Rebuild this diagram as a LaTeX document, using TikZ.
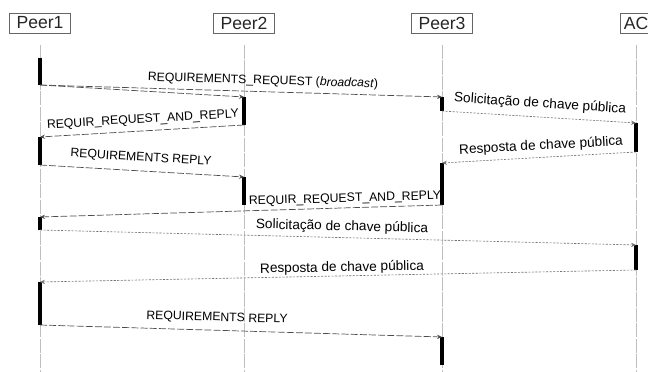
\documentclass[tikz,border=0pt]{standalone}
\usepackage{fontspec}
\setmainfont{Liberation Sans}
\usetikzlibrary{arrows.meta}
\begin{document}
\begin{tikzpicture}[x=0.025cm, y=-0.025cm, >={Stealth[length=3.5pt,width=3pt]},
    peer/.style={draw, gray!80!black, text=black!85, line width=0.4pt, minimum width=1.52cm,
      minimum height=0.5cm, inner sep=0pt, font=\fontsize{12.5}{13}\selectfont},
    lifeline/.style={gray!50, line width=0.35pt, dash pattern=on 10pt off 1pt},
    act/.style={line width=2.2pt},
    req/.style={->, black!70, line width=0.5pt, dash pattern=on 5pt off 1.5pt},
    chave/.style={->, black!55, line width=0.45pt, dash pattern=on 1.5pt off 1pt},
    reqlbl/.style={font=\fontsize{8.7}{9}\selectfont, inner sep=0pt},
    chavelbl/.style={font=\fontsize{9.7}{10}\selectfont, inner sep=0pt}]
  \useasboundingbox (0,0) rectangle (648,372);

  % Participantes
  \node[peer] (p1) at (40,23) {Peer1};
  \node[peer] (p2) at (244,23) {Peer2};
  \node[peer] (p3) at (442,23) {Peer3};
  \node[peer, minimum width=0.8cm] (ac) at (636,23) {AC};

  % Linhas de vida
  \foreach \p in {p1,p2,p3,ac}{
    \coordinate (\p-s) at (\p |- 0,45);
    \coordinate (\p-e) at (\p |- 0,372);
    \draw[lifeline] (\p-s) -- (\p-e);
  }

  % Barras de ativacao (nome/participante/inicio/fim)
  \foreach \n/\p/\ya/\yb in {a1/p1/58/85, a2/p2/97/125, a3/p3/97/111, a4/ac/123/152,
      a5/p1/137/165, a6/p3/163/205, a7/p2/177/205, a8/p1/217/230, a9/ac/245/270,
      a10/p1/282/325, a11/p3/337/365}{
    \coordinate (\n-t) at (\p |- 0,\ya);
    \coordinate (\n-b) at (\p |- 0,\yb);
    \draw[act] (\n-t) -- (\n-b);
  }

  % Mensagens
  \draw[req] (a1-b) -- (a2-t);
  \draw[req] (a1-b) -- (a3-t);
  \draw[req] (a2-b) -- (a5-t);
  \draw[chave] (a3-b) -- (a4-t);
  \draw[chave] (a4-b) -- (a6-t);
  \draw[req] (a5-b) -- (a7-t);
  \draw[req] (a6-b) -- (a8-t);
  \draw[chave] (a8-b) -- (a9-t);
  \draw[chave] (a9-b) -- (a10-t);
  \draw[req] (a10-b) -- (a11-t);

  % Rotulos
  \node[reqlbl, rotate=-1.7] (l1) at (263,81) {REQUIREMENTS\_REQUEST (\textit{broadcast})};
  \node[reqlbl, rotate=3.4] (l2) at (143,120) {REQUIR\_REQUEST\_AND\_REPLY};
  \node[chavelbl, rotate=-3.8] (l3) at (540,104) {Solicitação de chave pública};
  \node[chavelbl, rotate=3.2] (l4) at (541,146) {Resposta de chave pública};
  \node[reqlbl, rotate=-3.4] (l5) at (141,158) {REQUIREMENTS REPLY};
  \node[reqlbl, rotate=1.7] (l6) at (345,199) {REQUIR\_REQUEST\_AND\_REPLY};
  \node[chavelbl, rotate=-1.4] (l7) at (342,227) {Solicitação de chave pública};
  \node[chavelbl, rotate=1.1] (l8) at (342,268) {Resposta de chave pública};
  \node[reqlbl, rotate=-1.7] (l9) at (217,318) {REQUIREMENTS REPLY};
\end{tikzpicture}
\end{document}
